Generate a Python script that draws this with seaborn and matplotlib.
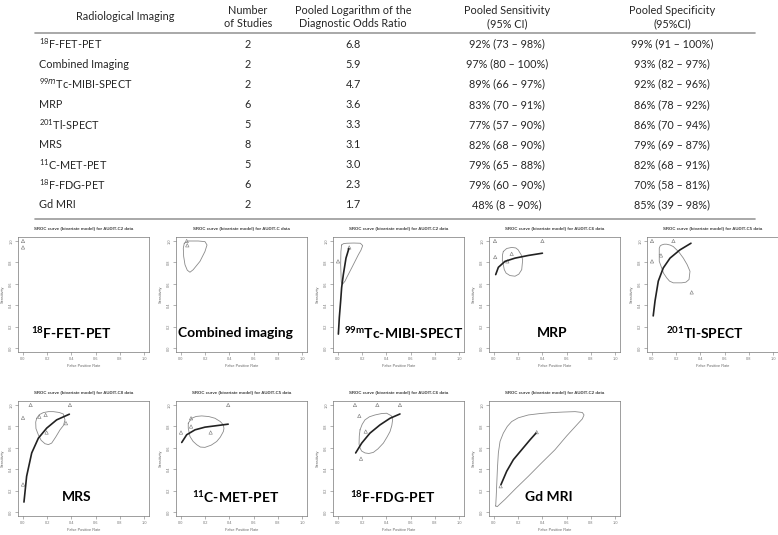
import numpy as np
import pandas as pd
import matplotlib
matplotlib.use("Agg")
import matplotlib.pyplot as plt
import seaborn as sns

sns.set_style("white")
plt.rcParams['font.family'] = ['Lato', 'DejaVu Sans']
plt.rcParams['mathtext.fontset'] = 'custom'
plt.rcParams['mathtext.rm'] = 'Lato'
plt.rcParams['mathtext.bf'] = 'Lato:bold'

# ---- table data ----
modalities = ["$^{18}$F-FET-PET", "Combined Imaging", "$^{99m}$Tc-MIBI-SPECT", "MRP",
              "$^{201}$Tl-SPECT", "MRS", "$^{11}$C-MET-PET", "$^{18}$F-FDG-PET", "Gd MRI"]
n_studies = [2, 2, 2, 6, 5, 8, 5, 6, 2]
log_dor = [6.8, 5.9, 4.7, 3.6, 3.3, 3.1, 3.0, 2.3, 1.7]
sens = [92, 97, 89, 83, 77, 82, 79, 79, 48]
sens_lo = [73, 80, 66, 70, 57, 68, 65, 60, 8]
sens_hi = [98, 100, 97, 91, 90, 90, 88, 90, 90]
spec = [99, 93, 92, 86, 86, 79, 82, 70, 85]
spec_lo = [91, 82, 82, 78, 70, 69, 68, 58, 39]
spec_hi = [100, 97, 96, 92, 94, 87, 91, 81, 98]
headers = ["Radiological Imaging", "Number\nof Studies", "Pooled Logarithm of the\nDiagnostic Odds Ratio",
           "Pooled Sensitivity\n(95% CI)", "Pooled Specificity\n(95%CI)"]

# ---- SROC panel data (FPR, sensitivity) ----
fet_fpr = [0.0, 0.0]
fet_sen = [1.0, 0.94]

comb_fpr = [0.047, 0.052]
comb_sen = [1.0, 0.96]
comb_ell_fpr = [0.027, 0.06, 0.10, 0.143, 0.198, 0.215, 0.198, 0.157, 0.101, 0.074, 0.052, 0.033, 0.022, 0.019]
comb_ell_sen = [0.979, 1.0, 1.0, 1.0, 0.994, 0.963, 0.902, 0.810, 0.732, 0.708, 0.727, 0.778, 0.856, 0.933]

mibi_fpr = [0.093, 0.0]
mibi_sen = [0.94, 0.81]
mibi_cur_fpr = [0.09, 0.066, 0.044, 0.03, 0.022, 0.011, 0.003]
mibi_cur_sen = [0.93, 0.84, 0.686, 0.564, 0.44, 0.286, 0.13]
mibi_ell_fpr = [0.030, 0.045, 0.072, 0.13, 0.185, 0.204, 0.19, 0.168, 0.113, 0.075, 0.058, 0.036, 0.027, 0.025, 0.022, 0.024]
mibi_ell_sen = [0.963, 0.975, 0.979, 0.981, 0.979, 0.957, 0.915, 0.871, 0.748, 0.665, 0.625, 0.594, 0.62, 0.686, 0.78, 0.90]

mrp_fpr = [0.008, 0.40, 0.01, 0.146, 0.11]
mrp_sen = [1.0, 1.0, 0.85, 0.88, 0.81]
mrp_cur_fpr = [0.014, 0.036, 0.091, 0.174, 0.284, 0.40]
mrp_cur_sen = [0.686, 0.754, 0.81, 0.84, 0.865, 0.886]
mrp_ell_fpr = [0.077, 0.105, 0.146, 0.18, 0.20, 0.225, 0.237, 0.229, 0.205, 0.174, 0.132, 0.10, 0.085, 0.069, 0.07]
mrp_ell_sen = [0.902, 0.93, 0.94, 0.935, 0.917, 0.87, 0.825, 0.732, 0.69, 0.671, 0.677, 0.70, 0.732, 0.825, 0.87]

tl_fpr = [0.0, 0.177, 0.0, 0.074, 0.328]
tl_sen = [1.0, 1.0, 0.81, 0.865, 0.52]
tl_cur_fpr = [0.01, 0.025, 0.052, 0.093, 0.149, 0.231, 0.322]
tl_cur_sen = [0.30, 0.44, 0.625, 0.748, 0.84, 0.917, 0.979]
tl_ell_fpr = [0.06, 0.06, 0.068, 0.08, 0.10, 0.121, 0.15, 0.176, 0.22, 0.259, 0.29, 0.314, 0.306, 0.28, 0.245, 0.176, 0.145, 0.121, 0.095, 0.08, 0.06]
tl_ell_sen = [0.871, 0.933, 0.955, 0.963, 0.97, 0.97, 0.962, 0.948, 0.90, 0.84, 0.78, 0.717, 0.64, 0.615, 0.609, 0.609, 0.625, 0.656, 0.70, 0.748, 0.81]

mrs_fpr = [0.0, 0.063, 0.388, 0.135, 0.187, 0.195, 0.355, 0.0]
mrs_sen = [0.88, 1.0, 1.0, 0.89, 0.907, 0.743, 0.83, 0.257]
mrs_cur_fpr = [0.008, 0.03, 0.072, 0.127, 0.196, 0.278, 0.383]
mrs_cur_sen = [0.093, 0.334, 0.552, 0.69, 0.784, 0.861, 0.914]
mrs_ell_fpr = [0.113, 0.135, 0.168, 0.21, 0.251, 0.30, 0.333, 0.347, 0.335, 0.306, 0.27, 0.237, 0.21, 0.182, 0.15, 0.127, 0.107, 0.105]
mrs_ell_sen = [0.876, 0.91, 0.929, 0.938, 0.938, 0.93, 0.916, 0.861, 0.81, 0.768, 0.70, 0.644, 0.63, 0.638, 0.67, 0.721, 0.78, 0.84]

met_fpr = [0.083, 0.083, 0.0, 0.245, 0.39]
met_sen = [0.876, 0.799, 0.743, 0.743, 1.0]
met_cur_fpr = [0.006, 0.047, 0.116, 0.198, 0.281, 0.39]
met_cur_sen = [0.65, 0.722, 0.768, 0.793, 0.805, 0.821]
met_ell_fpr = [0.06, 0.088, 0.125, 0.171, 0.23, 0.281, 0.325, 0.35, 0.355, 0.35, 0.325, 0.295, 0.25, 0.198, 0.16, 0.13, 0.10, 0.074, 0.06]
met_ell_sen = [0.83, 0.876, 0.893, 0.898, 0.892, 0.876, 0.845, 0.814, 0.78, 0.752, 0.70, 0.659, 0.625, 0.604, 0.607, 0.629, 0.66, 0.706, 0.784]

fdg_fpr = [0.14, 0.325, 0.512, 0.176, 0.229, 0.19]
fdg_sen = [1.0, 1.0, 1.0, 0.898, 0.752, 0.498]
fdg_cur_fpr = [0.146, 0.196, 0.264, 0.347, 0.43, 0.512]
fdg_cur_sen = [0.552, 0.644, 0.737, 0.814, 0.876, 0.916]
fdg_ell_fpr = [0.182, 0.20, 0.223, 0.26, 0.306, 0.36, 0.402, 0.44, 0.452, 0.445, 0.43, 0.405, 0.375, 0.33, 0.292, 0.255, 0.223, 0.195, 0.182, 0.174, 0.176]
fdg_ell_sen = [0.768, 0.82, 0.861, 0.89, 0.907, 0.92, 0.923, 0.90, 0.867, 0.81, 0.752, 0.70, 0.644, 0.59, 0.557, 0.547, 0.552, 0.57, 0.598, 0.635, 0.71]

gd_fpr = [0.055, 0.353]
gd_sen = [0.241, 0.746]
gd_cur_fpr = [0.058, 0.105, 0.16, 0.229, 0.298, 0.347]
gd_cur_sen = [0.257, 0.381, 0.489, 0.582, 0.675, 0.737]
gd_ell_fpr = [0.014, 0.018, 0.022, 0.028, 0.036, 0.05, 0.077, 0.11, 0.146, 0.20, 0.284, 0.38, 0.477, 0.57, 0.67, 0.73, 0.744, 0.73, 0.697, 0.60, 0.504, 0.39, 0.284, 0.18, 0.091, 0.045, 0.027]
gd_ell_sen = [0.056, 0.14, 0.241, 0.40, 0.552, 0.66, 0.737, 0.80, 0.845, 0.88, 0.907, 0.92, 0.929, 0.934, 0.938, 0.93, 0.907, 0.87, 0.83, 0.71, 0.582, 0.455, 0.334, 0.22, 0.118, 0.07, 0.05]

panels = [
    # (label, audit tag, points, curve, ellipse, label x)
    (r"$^{\mathbf{18}}$F-FET-PET", "C2", (fet_fpr, fet_sen), None, None, 0.40),
    ("Combined imaging", "C", (comb_fpr, comb_sen), None, (comb_ell_fpr, comb_ell_sen), 0.45),
    (r"$^{\mathbf{99m}}$Tc-MIBI-SPECT", "C2", (mibi_fpr, mibi_sen), (mibi_cur_fpr, mibi_cur_sen), (mibi_ell_fpr, mibi_ell_sen), 0.54),
    ("MRP", "C6", (mrp_fpr, mrp_sen), (mrp_cur_fpr, mrp_cur_sen), (mrp_ell_fpr, mrp_ell_sen), 0.48),
    (r"$^{\mathbf{201}}$Tl-SPECT", "C5", (tl_fpr, tl_sen), (tl_cur_fpr, tl_cur_sen), (tl_ell_fpr, tl_ell_sen), 0.44),
    ("MRS", "C8", (mrs_fpr, mrs_sen), (mrs_cur_fpr, mrs_cur_sen), (mrs_ell_fpr, mrs_ell_sen), 0.44),
    (r"$^{\mathbf{11}}$C-MET-PET", "C5", (met_fpr, met_sen), (met_cur_fpr, met_cur_sen), (met_ell_fpr, met_ell_sen), 0.45),
    (r"$^{\mathbf{18}}$F-FDG-PET", "C6", (fdg_fpr, fdg_sen), (fdg_cur_fpr, fdg_cur_sen), (fdg_ell_fpr, fdg_ell_sen), 0.45),
    ("Gd MRI", "C2", (gd_fpr, gd_sen), (gd_cur_fpr, gd_cur_sen), (gd_ell_fpr, gd_ell_sen), 0.45),
]

W, H = 778, 535
fig = plt.figure(figsize=(7.78, 5.35), dpi=100)

# table drawn in pixel coords
tab = fig.add_axes([0, 0, 1, 1])
tab.set_xlim(0, W)
tab.set_ylim(H, 0)
tab.axis('off')
col_x = [125, 248, 353, 507, 672]
fs = 7.8
for x, h in zip(col_x, headers):
    tab.text(x, 17, h, ha='center', va='center', fontsize=fs, linespacing=1.3)
tab.plot([35, 755], [33, 33], color='#999999', lw=1.2)
tab.plot([35, 755], [219, 219], color='#999999', lw=1.2)
for i in range(len(modalities)):
    y = 44 + 20.1 * i
    tab.text(39, y, modalities[i], ha='left', va='center', fontsize=fs)
    tab.text(col_x[1], y, str(n_studies[i]), ha='center', va='center', fontsize=fs)
    tab.text(col_x[2], y, f"{log_dor[i]:.1f}", ha='center', va='center', fontsize=fs)
    tab.text(col_x[3], y, f"{sens[i]}% ({sens_lo[i]} \u2013 {sens_hi[i]}%)", ha='center', va='center', fontsize=fs)
    tab.text(col_x[4], y, f"{spec[i]}% ({spec_lo[i]} \u2013 {spec_hi[i]}%)", ha='center', va='center', fontsize=fs)

# SROC panels
x0s = [23, 181, 338, 494, 652]
ones_y = [241, 405]
sx, sy = 121, 107
rfont = ['Liberation Sans', 'DejaVu Sans']
for k, (lab, tag, pts, cur, ell, lx) in enumerate(panels):
    row, col = divmod(k, 5)
    left = x0s[col] - 0.04 * sx
    top = ones_y[row] - 0.04 * sy
    ax = fig.add_axes([left / W, 1 - (top + 1.08 * sy) / H, 1.08 * sx / W, 1.08 * sy / H])
    ax.set_xlim(-0.04, 1.04)
    ax.set_ylim(-0.04, 1.04)
    if ell is not None:
        ex = list(ell[0]) + [ell[0][0]]
        ey = list(ell[1]) + [ell[1][0]]
        sns.lineplot(x=ex, y=ey, sort=False, estimator=None, color='#8a8a8a', lw=0.6, ax=ax)
    if cur is not None:
        sns.lineplot(x=cur[0], y=cur[1], sort=False, estimator=None, color='#222222', lw=1.2, ax=ax)
    sns.scatterplot(x=pts[0], y=pts[1], marker='^', s=6, facecolor='none',
                    edgecolor='#777777', linewidth=0.4, ax=ax)
    for s in ax.spines.values():
        s.set_visible(True)
        s.set_color('#777777')
        s.set_linewidth(0.5)
    ticks = [0.0, 0.2, 0.4, 0.6, 0.8, 1.0]
    ax.set_xticks(ticks)
    ax.set_yticks(ticks)
    ax.set_xticklabels([f"{t:.1f}" for t in ticks], family=rfont)
    ax.set_yticklabels([f"{t:.1f}" for t in ticks], family=rfont, rotation=90, va='center')
    ax.tick_params(direction='out', length=2, width=0.4, labelsize=2.8, colors='#777777',
                   pad=1.5, bottom=True, left=True)
    ax.set_xlabel("False Positive Rate", fontsize=2.8, family=rfont, color='#666666', labelpad=2)
    ax.set_ylabel("Sensitivity", fontsize=2.8, family=rfont, color='#666666', labelpad=3)
    ax.set_title(f"SROC curve (bivariate model) for AUDIT-{tag} data", fontsize=3.2,
                 fontweight='bold', family=rfont, color='#444444', pad=5)
    ax.text(lx, 0.14, lab, ha='center', va='center', fontsize=10, fontweight='bold', color='black')

fig.savefig("out.png", dpi=100)
